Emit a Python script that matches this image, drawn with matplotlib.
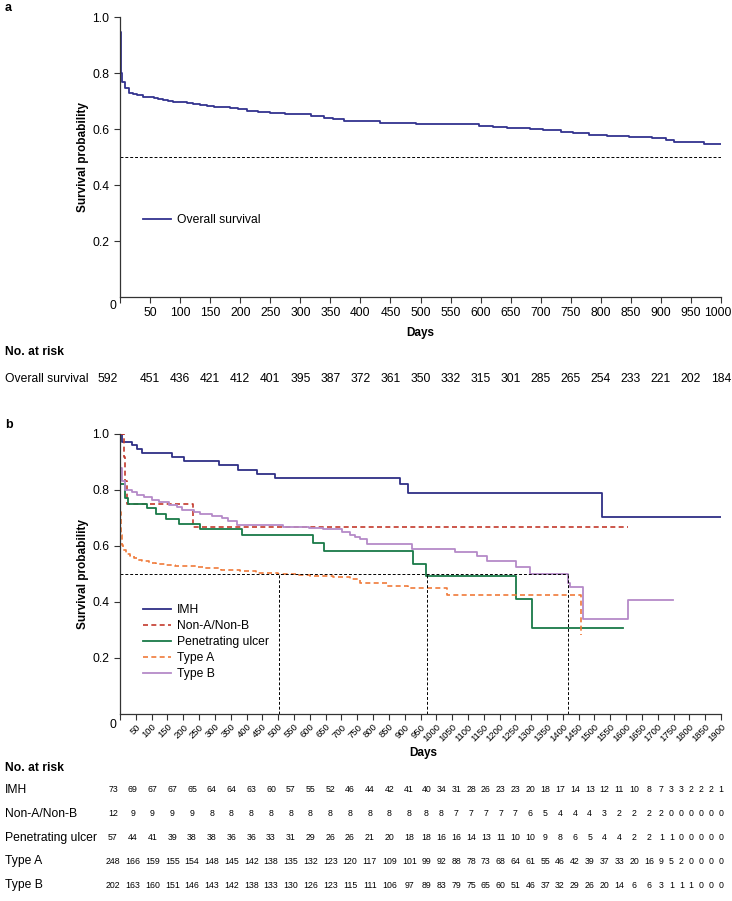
import numpy as np
import matplotlib.pyplot as plt
import matplotlib.transforms as mtrans

plt.rcParams['font.family'] = ['Liberation Sans', 'DejaVu Sans']

W, H = 732, 901

# ---- panel a: overall survival ----
all_days = [0, 1, 2, 4, 8, 15, 22, 28, 39, 48, 56, 64, 72, 80, 89, 100, 111, 122, 133, 145,
            156, 170, 183, 197, 211, 230, 250, 275, 300, 317, 339, 355, 372, 433, 492, 597,
            620, 644, 683, 703, 733, 753, 781, 811, 847, 886, 908, 922, 932, 972, 1000]
all_surv = [0.948, 0.882, 0.80, 0.768, 0.748, 0.73, 0.725, 0.721, 0.716, 0.713, 0.71, 0.707,
            0.704, 0.701, 0.698, 0.695, 0.692, 0.689, 0.686, 0.683, 0.68, 0.678, 0.675, 0.670,
            0.664, 0.661, 0.658, 0.655, 0.652, 0.645, 0.638, 0.634, 0.629, 0.623, 0.618, 0.611,
            0.608, 0.605, 0.600, 0.596, 0.588, 0.584, 0.579, 0.575, 0.571, 0.568, 0.561, 0.554,
            0.552, 0.547, 0.547]
risk_all = [592, 451, 436, 421, 412, 401, 395, 387, 372, 361, 350, 332, 315, 301, 285, 265,
            254, 233, 221, 202, 184]

# ---- panel b: by type ----
imh_days = [0, 6, 38, 54, 70, 164, 201, 314, 373, 432, 490, 885, 909, 1523, 1900]
imh_surv = [1.0, 0.973, 0.959, 0.945, 0.932, 0.918, 0.904, 0.888, 0.872, 0.858, 0.844, 0.82,
            0.79, 0.705, 0.705]

nonab_days = [0, 12, 17, 21, 231, 1607]
nonab_surv = [1.0, 0.917, 0.833, 0.75, 0.667, 0.667]

pu_days = [0, 1, 15, 26, 85, 115, 146, 185, 254, 386, 611, 645, 927, 967, 1251, 1304, 1591]
pu_surv = [0.84, 0.82, 0.771, 0.75, 0.736, 0.716, 0.698, 0.677, 0.66, 0.638, 0.61, 0.582,
           0.534, 0.493, 0.41, 0.306, 0.306]

typea_days = [0, 1, 3, 6, 11, 20, 33, 45, 54, 70, 91, 115, 143, 175, 207, 240, 270, 320, 380,
              430, 500, 560, 600, 674, 727, 760, 843, 910, 1033, 1457, 1457]
typea_surv = [0.87, 0.72, 0.64, 0.605, 0.585, 0.57, 0.563, 0.556, 0.551, 0.545, 0.539, 0.536,
              0.533, 0.530, 0.527, 0.524, 0.521, 0.516, 0.511, 0.505, 0.5, 0.498, 0.494, 0.49,
              0.481, 0.469, 0.457, 0.449, 0.425, 0.282, 0.282]

typeb_days = [0, 6, 17, 38, 54, 75, 101, 122, 154, 180, 196, 233, 254, 291, 322, 343, 370, 514,
              598, 641, 701, 727, 743, 759, 780, 922, 1059, 1130, 1161, 1252, 1296, 1417, 1422,
              1465, 1607, 1749]
typeb_surv = [0.88, 0.831, 0.801, 0.793, 0.783, 0.774, 0.765, 0.757, 0.748, 0.738, 0.730, 0.721,
              0.714, 0.706, 0.700, 0.688, 0.676, 0.669, 0.664, 0.66, 0.651, 0.639, 0.631, 0.624,
              0.607, 0.59, 0.58, 0.564, 0.548, 0.526, 0.50, 0.469, 0.455, 0.339, 0.407, 0.407]

groups = ['IMH', 'Non-A/Non-B', 'Penetrating ulcer', 'Type A', 'Type B']
medians = [503, 969, 1417]

risk_imh = [73, 69, 67, 67, 65, 64, 64, 63, 60, 57, 55, 52, 46, 44, 42, 41, 40, 34, 31, 28, 26,
            23, 23, 20, 18, 17, 14, 13, 12, 11, 10, 8, 7, 3, 3, 2, 2, 2, 1]
risk_nonab = [12, 9, 9, 9, 9, 8, 8, 8, 8, 8, 8, 8, 8, 8, 8, 8, 8, 8, 7, 7, 7, 7, 7, 6, 5, 4, 4,
              4, 3, 2, 2, 2, 2, 0, 0, 0, 0, 0, 0]
risk_pu = [57, 44, 41, 39, 38, 38, 36, 36, 33, 31, 29, 26, 26, 21, 20, 18, 18, 16, 16, 14, 13,
           11, 10, 10, 9, 8, 6, 5, 4, 4, 2, 2, 1, 1, 0, 0, 0, 0, 0]
risk_typea = [248, 166, 159, 155, 154, 148, 145, 142, 138, 135, 132, 123, 120, 117, 109, 101,
              99, 92, 88, 78, 73, 68, 64, 61, 55, 46, 42, 39, 37, 33, 20, 16, 9, 5, 2, 0, 0, 0, 0]
risk_typeb = [202, 163, 160, 151, 146, 143, 142, 138, 133, 130, 126, 123, 115, 111, 106, 97, 89,
              83, 79, 75, 65, 60, 51, 46, 37, 32, 29, 26, 20, 14, 6, 6, 3, 1, 1, 1, 0, 0, 0]

colors = ['#2f2f86', '#c33a2c', '#197a48', '#f07a3a', '#b58ac8']
styles = ['-', '--', '-', '--', '-']


def fx(px):
    return px / W


def fy(py):
    return 1 - py / H


def style_axes(ax):
    for s in ['top', 'right']:
        ax.spines[s].set_visible(False)
    for s in ['left', 'bottom']:
        ax.spines[s].set_color('#333333')
        ax.spines[s].set_linewidth(0.9)
    ax.tick_params(colors='#333333', labelcolor='black', length=4, width=0.8)
    ax.set_ylim(0, 1.0)
    ax.set_yticks([0.2, 0.4, 0.6, 0.8, 1.0])
    ax.set_yticklabels(['0.2', '0.4', '0.6', '0.8', '1.0'], fontsize=8.7)


fig = plt.figure(figsize=(W / 100, H / 100), dpi=100)

# ---------- panel a ----------
axa = fig.add_axes([fx(120), fy(297), fx(601), 280 / H])
style_axes(axa)
axa.step(all_days, all_surv, where='post', color='#33338f', lw=1.3, label='Overall survival')
axa.plot([0, 1000], [0.5, 0.5], color='black', lw=0.7, dashes=(3, 2))
axa.set_xlim(0, 1000)
ticks_a = np.arange(0, 1001, 50)
axa.set_xticks(ticks_a)
axa.set_xticklabels([''] + [str(t) for t in ticks_a[1:]], fontsize=8.7)
last = axa.get_xticklabels()[-1]
last.set_transform(last.get_transform() + mtrans.ScaledTranslation(-3 / 100, 0, fig.dpi_scale_trans))
axa.legend(loc='upper left', bbox_to_anchor=(fx(132), fy(203)), bbox_transform=fig.transFigure,
           frameon=False, fontsize=8.7, handlelength=2.3, handletextpad=0.5)

fig.text(fx(5), fy(8), 'a', fontsize=9, fontweight='bold', va='center')
fig.text(fx(113), fy(306), '0', fontsize=8.7, ha='center', va='center')
fig.text(fx(83), fy(157), 'Survival probability', fontsize=8.5, fontweight='bold',
         rotation=90, ha='center', va='center')
fig.text(fx(420), fy(333), 'Days', fontsize=8.5, fontweight='bold', ha='center', va='center')
fig.text(fx(5), fy(352), 'No. at risk', fontsize=8.7, fontweight='bold', va='center')
fig.text(fx(5), fy(379), 'Overall survival', fontsize=8.7, va='center')
for i, n in enumerate(risk_all):
    px = 108 if i == 0 else 120 + i * 30.05
    fig.text(fx(px), fy(379), str(n), fontsize=8.7, ha='center', va='center')

# ---------- panel b ----------
axb = fig.add_axes([fx(120), fy(714), fx(601), 280 / H])
style_axes(axb)
series = [(imh_days, imh_surv), (nonab_days, nonab_surv), (pu_days, pu_surv),
          (typea_days, typea_surv), (typeb_days, typeb_surv)]
for (d, s), c, ls, g in zip(series, colors, styles, groups):
    if ls == '--':
        axb.step(d, s, where='post', color=c, lw=1.2, dashes=(3, 2), label=g)
    else:
        axb.step(d, s, where='post', color=c, lw=1.3, label=g)
axb.plot([0, medians[-1]], [0.5, 0.5], color='black', lw=0.7, dashes=(3, 2))
for m in medians:
    axb.plot([m, m], [0, 0.5], color='black', lw=0.7, dashes=(3, 2))
axb.set_xlim(0, 1900)
ticks_b = np.arange(0, 1901, 50)
axb.set_xticks(ticks_b)
axb.set_xticklabels([''] + [str(t) for t in ticks_b[1:]], fontsize=6.8, rotation=45,
                    ha='right', va='top', rotation_mode='anchor')
axb.tick_params(axis='x', pad=2)
axb.legend(loc='upper left', bbox_to_anchor=(fx(132), fy(593)), bbox_transform=fig.transFigure,
           frameon=False, fontsize=8.7, handlelength=2.3, handletextpad=0.5, labelspacing=0.33)

fig.text(fx(5), fy(425), 'b', fontsize=9, fontweight='bold', va='center')
fig.text(fx(113), fy(725), '0', fontsize=8.7, ha='center', va='center')
fig.text(fx(83), fy(574), 'Survival probability', fontsize=8.5, fontweight='bold',
         rotation=90, ha='center', va='center')
fig.text(fx(423), fy(753), 'Days', fontsize=8.5, fontweight='bold', ha='center', va='center')
fig.text(fx(5), fy(768), 'No. at risk', fontsize=8.7, fontweight='bold', va='center')

risk_rows = [risk_imh, risk_nonab, risk_pu, risk_typea, risk_typeb]
row_y = [790, 814, 838, 861, 885]

# column widths follow the widest number in each column, then spread from x=113 to x=721
ndig = np.array([max(len(str(r[i])) for r in risk_rows) for i in range(len(risk_imh))])
colw = 4.9 * ndig + 5.0
centres = np.concatenate([[0], np.cumsum((colw[:-1] + colw[1:]) / 2)])
centres = 113 + centres / centres[-1] * (721 - 113)

for g, row, ry in zip(groups, risk_rows, row_y):
    fig.text(fx(5), fy(ry), g, fontsize=8.7, va='center')
    for px, n in zip(centres, row):
        fig.text(fx(px), fy(ry), str(n), fontsize=6.3, ha='center', va='center')

fig.savefig('out.png', dpi=100)
